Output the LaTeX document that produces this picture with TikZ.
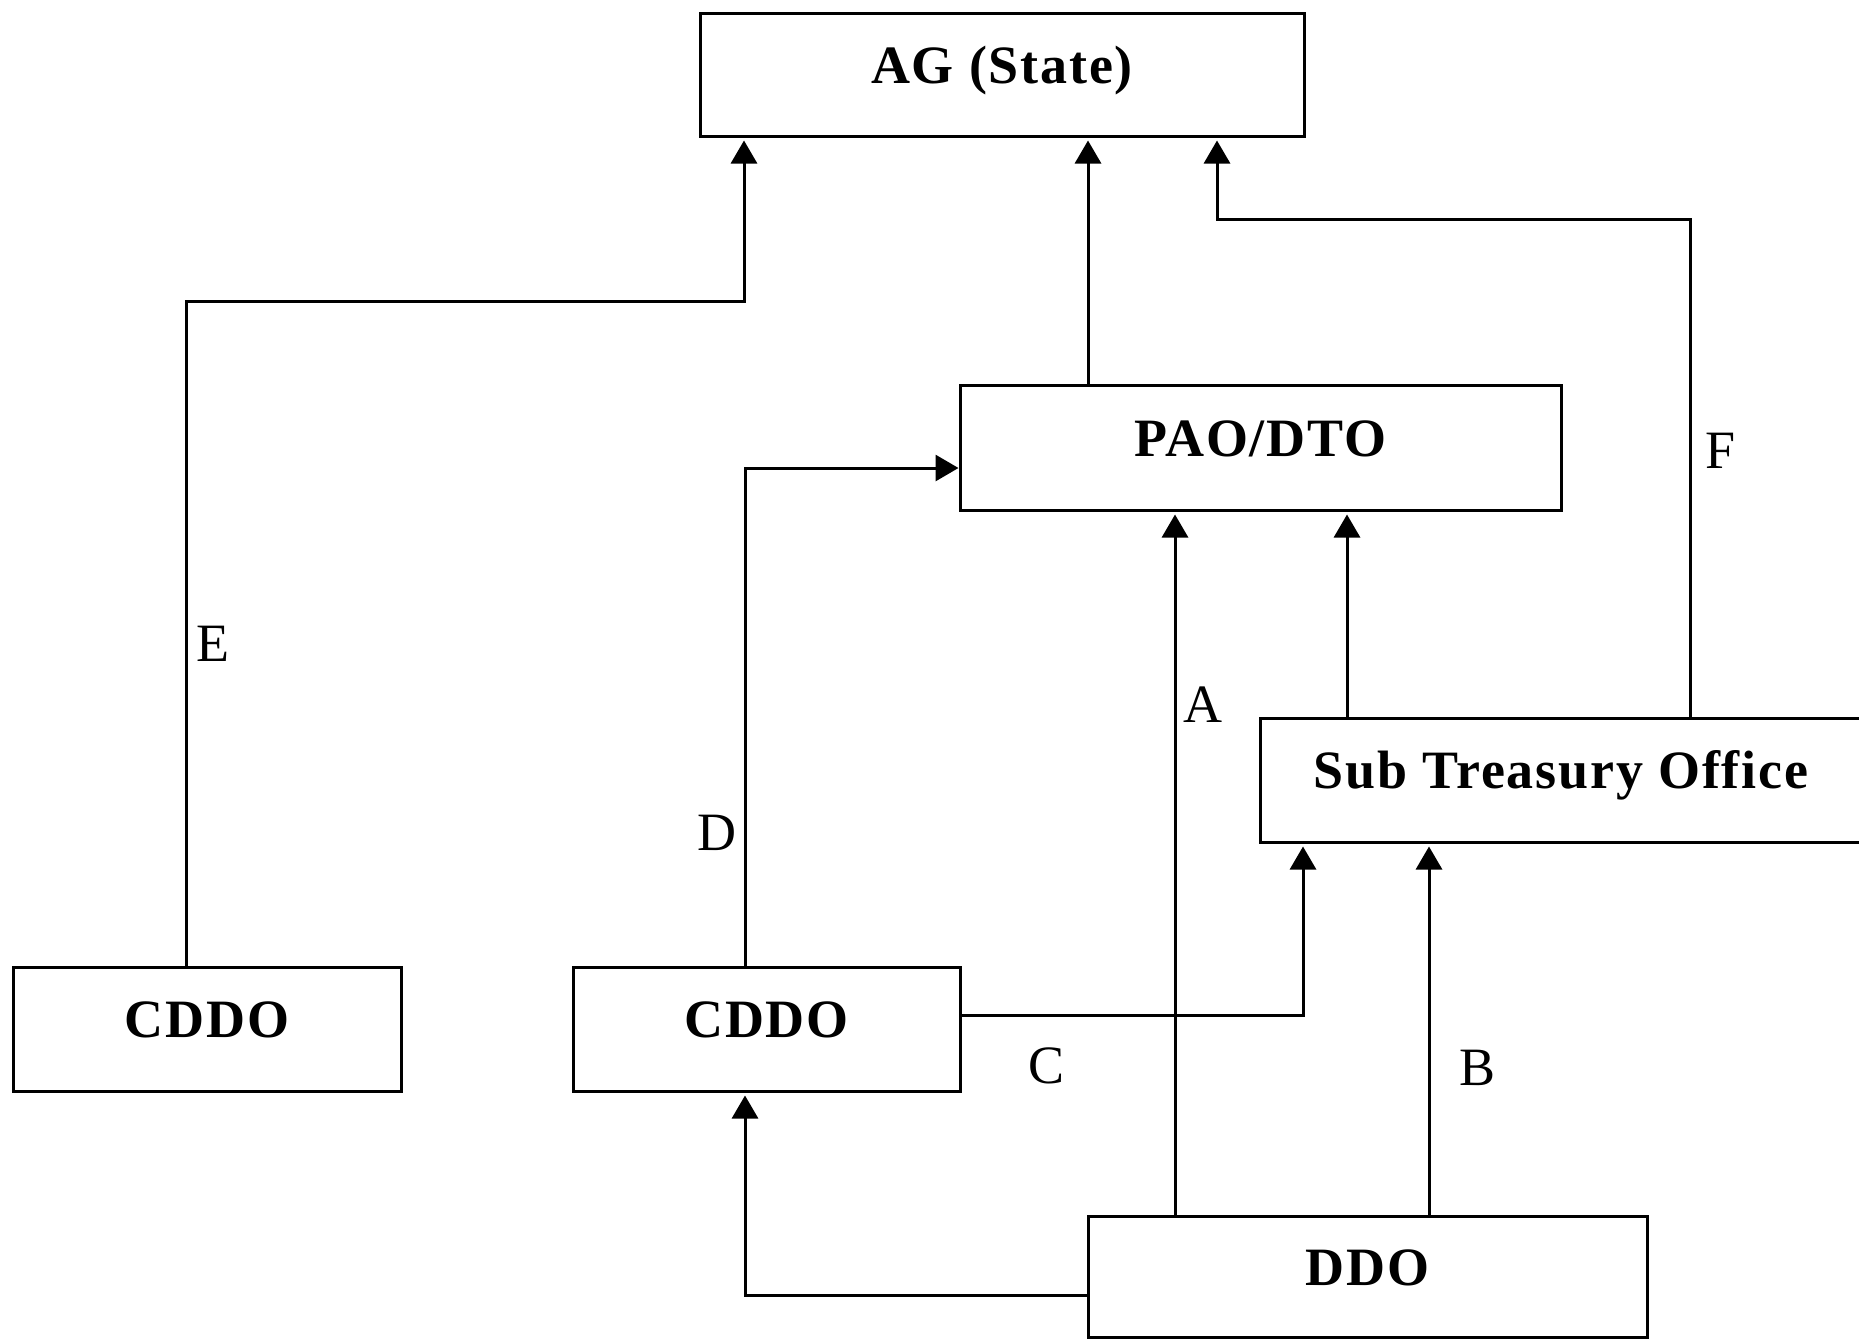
\documentclass[tikz,border=0pt]{standalone}
\usepackage{fontspec}
\setmainfont{Liberation Serif}
\newfontfamily\boxfont[LetterSpace=3.3]{Liberation Serif}
\usetikzlibrary{arrows.meta}
\begin{document}
\begin{tikzpicture}[x=0.5pt,y=-0.5pt,
  box/.style={draw, line width=1.5pt, rectangle, inner sep=0pt,
    font=\boxfont\fontsize{27}{30}\selectfont\bfseries,
    text height=18pt, text depth=9.5pt},
  lbl/.style={inner sep=0pt, font=\fontsize{27}{30}\selectfont},
  conn/.style={line width=1.5pt},
  arr/.style={conn, -{Triangle[width=13pt,length=11.5pt]}, shorten >=1.5pt},
  arrt/.style={conn, -{Triangle[width=13pt,length=11.5pt]}}]
\useasboundingbox (0,0) rectangle (1859,1340);
\clip (0,0) rectangle (1859,1340);
\node[box, minimum width=302pt, minimum height=61.5pt] (ag) at (1002,74.5) {AG (State)};
\node[box, minimum width=300.5pt, minimum height=62.5pt] (pao) at (1260.5,447.5) {PAO/DTO};
\node[box, minimum width=301pt, minimum height=62pt] (sto) at (1561,780) {Sub Treasury Office};
\node[box, minimum width=194pt, minimum height=62pt] (c1) at (207,1029) {CDDO};
\node[box, minimum width=193.5pt, minimum height=62pt] (c2) at (766.5,1029) {CDDO};
\node[box, minimum width=279.5pt, minimum height=60.5pt] (ddo) at (1367.5,1276.5) {DDO};
% connectors
\draw[arr] (186,0 |- c1.north) -- (186,301) -- (744,301) -- (744,0 |- ag.south);
\draw[arr] (1088,0 |- pao.north) -- (1088,0 |- ag.south);
\draw[arr] (1690,0 |- sto.north) -- (1690,219) -- (1217,219) -- (1217,0 |- ag.south);
\draw[arrt] (745,0 |- c2.north) -- (745,468) -- (pao.west |- 745,468);
\draw[arr] (1175,0 |- ddo.north) -- (1175,0 |- pao.south);
\draw[arr] (1347,0 |- sto.north) -- (1347,0 |- pao.south);
\draw[arr] (c2.east |- 0,1015) -- (1303,1015) -- (1303,0 |- sto.south);
\draw[arr] (1429,0 |- ddo.north) -- (1429,0 |- sto.south);
\draw[arr] (ddo.west |- 0,1295) -- (745,1295) -- (745,0 |- c2.south);
% labels
\node[lbl] (lE) at (213,644) {E};
\node[lbl] (lD) at (717,833) {D};
\node[lbl] (lA) at (1203,705) {A};
\node[lbl] (lF) at (1720,451) {F};
\node[lbl] (lC) at (1046,1066) {C};
\node[lbl] (lB) at (1477,1068) {B};
\end{tikzpicture}
\end{document}
